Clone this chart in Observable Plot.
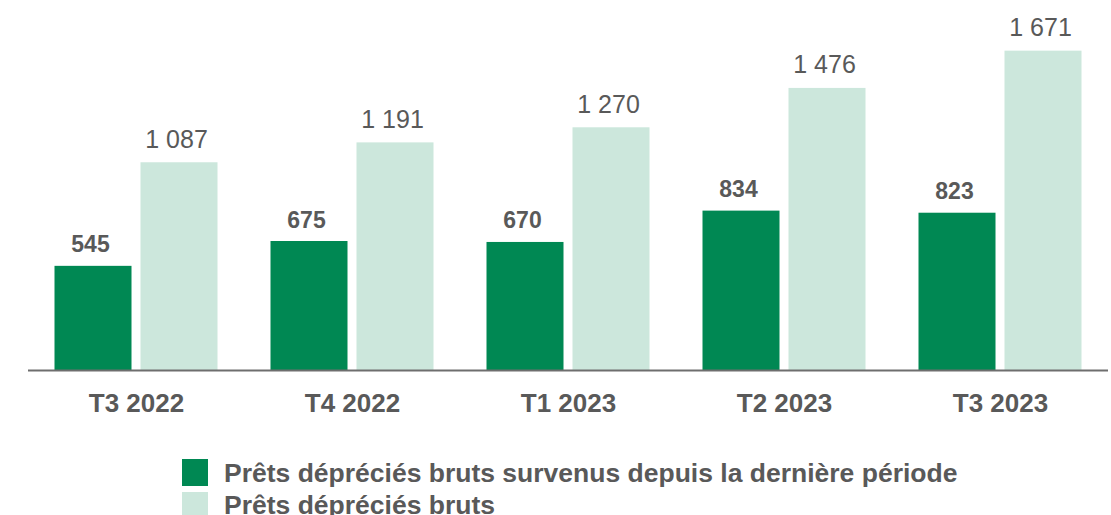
<!DOCTYPE html>
<html>
<head>
<meta charset="utf-8">
<script src="https://cdn.jsdelivr.net/npm/d3@7"></script>
<script src="https://cdn.jsdelivr.net/npm/@observablehq/plot@0.6"></script>
<style>
  html, body { margin: 0; padding: 0; background: #fff; }
  body { width: 1111px; height: 515px; overflow: hidden; position: relative; font-family: "Liberation Sans", Arial, sans-serif; }
  #legend { position: absolute; left: 182px; top: 456.5px; font-weight: bold; font-size: 26.5px; color: #595959; }
  .row { display: flex; align-items: center; height: 32.6px; line-height: 1; }
  .sw { width: 26px; height: 27px; margin-right: 16px; flex: none; }
</style>
</head>
<body>
<div id="chart"></div>
<div id="legend"></div>
<script>
const periods = ["T3 2022", "T4 2022", "T1 2023", "T2 2023", "T3 2023"];
const newImpaired = [545, 675, 670, 834, 823];
const grossImpaired = [1087, 1191, 1270, 1476, 1671];
const seriesKeys = ["new", "gross"];
const seriesNames = ["Prêts dépréciés bruts survenus depuis la dernière période", "Prêts dépréciés bruts"];
const seriesColors = ["#008853", "#cce7dc"];

const data = [];
periods.forEach((p, i) => {
  data.push({period: p, series: "new", value: newImpaired[i]});
  data.push({period: p, series: "gross", value: grossImpaired[i]});
});
const fmt = d3.formatLocale({decimal: ",", thousands: " ", grouping: [3], currency: ["", ""]}).format(",");

const textColor = "#595959";
const chart = Plot.plot({
  width: 1111,
  height: 440,
  marginLeft: 27.5,
  marginRight: 3.5,
  marginTop: 26,
  marginBottom: 70,
  style: {fontFamily: "'Liberation Sans', Arial, sans-serif", color: textColor, background: "white"},
  fx: {domain: periods, padding: 0, axis: null},
  x: {domain: seriesKeys, paddingInner: 0.1034, paddingOuter: 0.2931, axis: null},
  y: {domain: [0, 1800], axis: null},
  color: {domain: seriesKeys, range: seriesColors},
  marks: [
    Plot.barY(data, {fx: "period", x: "series", y: "value", fill: "series"}),
    Plot.ruleY([0], {stroke: "#6e6e6e", strokeWidth: 2}),
    Plot.text(data.filter(d => d.series === "new"), {fx: "period", x: "series", y: "value", text: d => fmt(d.value), lineAnchor: "bottom", dx: -3, dy: -14, fontSize: 23, fontWeight: "bold", fill: textColor}),
    Plot.text(data.filter(d => d.series === "gross"), {fx: "period", x: "series", y: "value", text: d => fmt(d.value), lineAnchor: "bottom", dx: -3, dy: -15, fontSize: 25, fill: textColor}),
    Plot.text(periods, {fx: d => d, text: d => d, frameAnchor: "bottom", lineAnchor: "bottom", dy: 41, fontSize: 26, fontWeight: "bold", fill: textColor})
  ]
});
document.getElementById("chart").appendChild(chart);

const legend = document.getElementById("legend");
seriesKeys.forEach((k, i) => {
  const row = document.createElement("div");
  row.className = "row";
  const sw = document.createElement("span");
  sw.className = "sw";
  sw.style.background = seriesColors[i];
  const lab = document.createElement("span");
  lab.textContent = seriesNames[i];
  row.appendChild(sw);
  row.appendChild(lab);
  legend.appendChild(row);
});
</script>
</body>
</html>
